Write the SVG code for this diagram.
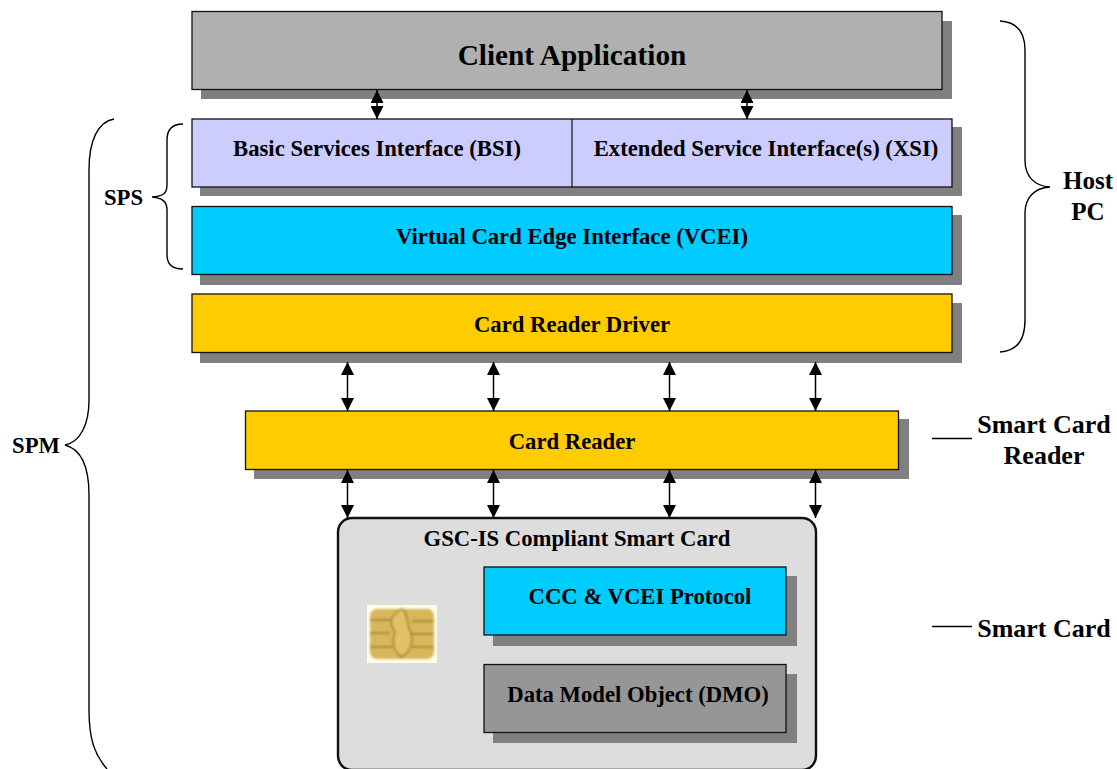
<svg xmlns="http://www.w3.org/2000/svg" width="1117" height="769" viewBox="0 0 1117 769">
<defs>
<marker id="a" viewBox="0 0 13 13" refX="13" refY="6.5" markerWidth="13" markerHeight="13" markerUnits="userSpaceOnUse" orient="auto-start-reverse"><path d="M0 0L13 6.5L0 13z" fill="#000"/></marker>
<filter id="blur" x="-10%" y="-10%" width="120%" height="120%"><feGaussianBlur stdDeviation="1.3"/></filter>
</defs>
<style>
text{font-family:"Liberation Serif","Times New Roman",serif;font-weight:bold;fill:#000;text-anchor:middle}
.s{fill:#808080}
.b{stroke:#111;stroke-width:1.3}
.c{fill:none;stroke:#000;stroke-width:1.4}
.l{stroke:#000;stroke-width:1.5;marker-start:url(#a);marker-end:url(#a)}
.t{font-size:22.700px}
.o{font-size:26px}
</style>
<rect width="1117" height="769" fill="#fff"/>
<g id="client"><rect class="s" x="201" y="21" width="751" height="78"/><rect class="b" x="192" y="11.500" width="750" height="78" fill="#b0b0b0"/><text x="572" y="65" font-size="29.300">Client Application</text></g>
<g id="bsi-xsi"><rect class="s" x="200" y="127" width="762" height="69"/><rect class="b" x="192" y="119" width="760" height="68" fill="#ccccff"/><line x1="572" y1="119" x2="572" y2="187" stroke="#111" stroke-width="1.2"/><text class="t" x="377" y="156">Basic Services Interface (BSI)</text><text class="t" x="766" y="156">Extended Service Interface(s) (XSI)</text></g>
<g id="vcei"><rect class="s" x="200" y="215" width="762" height="70"/><rect class="b" x="192" y="206.500" width="760" height="68" fill="#00ccff"/><text class="t" x="572" y="244">Virtual Card Edge Interface (VCEI)</text></g>
<g id="driver"><rect class="s" x="200" y="303" width="762" height="60"/><rect class="b" x="192" y="294" width="760" height="58.500" fill="#ffcc00"/><text class="t" x="572" y="332">Card Reader Driver</text></g>
<g id="reader"><rect class="s" x="254" y="419" width="655" height="60"/><rect class="b" x="245.500" y="411" width="653" height="58.500" fill="#ffcc00"/><text class="t" x="572" y="449">Card Reader</text></g>
<g id="card"><rect x="338" y="518" width="478" height="252" rx="14" fill="#dddddd" stroke="#111" stroke-width="2.4"/><text class="t" x="577" y="546">GSC-IS Compliant Smart Card</text></g>
<g id="ccc"><rect class="s" x="493" y="576" width="304" height="70"/><rect class="b" x="484" y="567" width="302" height="68" fill="#00ccff"/><text class="t" x="640" y="604">CCC &amp; VCEI Protocol</text></g>
<g id="dmo"><rect class="s" x="493" y="674" width="304" height="69"/><rect class="b" x="484" y="664.500" width="302" height="68" fill="#969696"/><text class="t" x="638" y="702">Data Model Object (DMO)</text></g>
<g id="chip">
<rect x="367" y="605" width="70" height="58" fill="#fffcea"/>
<g filter="url(#blur)">
<rect x="370" y="609" width="64" height="50" rx="7" fill="#d8b75a"/>
<path d="M370 620H392M370 633H390M370 647H392M412 621H434M410 634H434M412 647H434M392 618C396 612 398 610 402 609C408 612 406 622 410 630C414 640 412 650 402 657C394 652 392 644 394 636C398 630 388 626 392 618z" fill="#e0c068" stroke="#a58a38" stroke-width="1.800"/>
</g>
</g>
<g id="connectors">
<line class="l" x1="377" y1="90" x2="377" y2="119"/>
<line class="l" x1="747" y1="90" x2="747" y2="119"/>
<line class="l" x1="347.500" y1="362" x2="347.500" y2="411"/>
<line class="l" x1="493.500" y1="362" x2="493.500" y2="411"/>
<line class="l" x1="669.500" y1="362" x2="669.500" y2="411"/>
<line class="l" x1="815.500" y1="362" x2="815.500" y2="411"/>
<line class="l" x1="347.500" y1="470" x2="347.500" y2="518"/>
<line class="l" x1="493.500" y1="470" x2="493.500" y2="518"/>
<line class="l" x1="669.500" y1="470" x2="669.500" y2="518"/>
<line class="l" x1="815.500" y1="470" x2="815.500" y2="518"/>
<line x1="932" y1="438.500" x2="972" y2="438.500" stroke="#000" stroke-width="1.300"/>
<line x1="932" y1="626.500" x2="972" y2="626.500" stroke="#000" stroke-width="1.300"/>
<path class="c" d="M1000 21C1018 22 1025 33 1025 50V160C1025 176 1034 186 1050 187C1034 188 1025 198 1025 213V320C1025 338 1018 351 1000 352"/>
<path class="c" d="M183 124C172 124 167 130 167 140V185C167 194 163 196 152 197C163 198 167 202 167 210V255C167 264 172 269 183 269"/>
<path class="c" d="M114 119C98 122 89 140 89 170V400C89 425 80 442 65 445C80 449 89 465 89 495V710C89 740 95 755 107 769"/>
</g>
<g id="labels">
<text class="t" x="123.500" y="205">SPS</text>
<text class="t" x="36" y="453">SPM</text>
<text font-size="25" x="1088" y="189">Host</text>
<text font-size="25" x="1088" y="220">PC</text>
<text class="o" x="1044" y="432.500">Smart Card</text>
<text class="o" x="1044" y="463.500">Reader</text>
<text class="o" x="1044" y="636.500">Smart Card</text>
</g>
</svg>
